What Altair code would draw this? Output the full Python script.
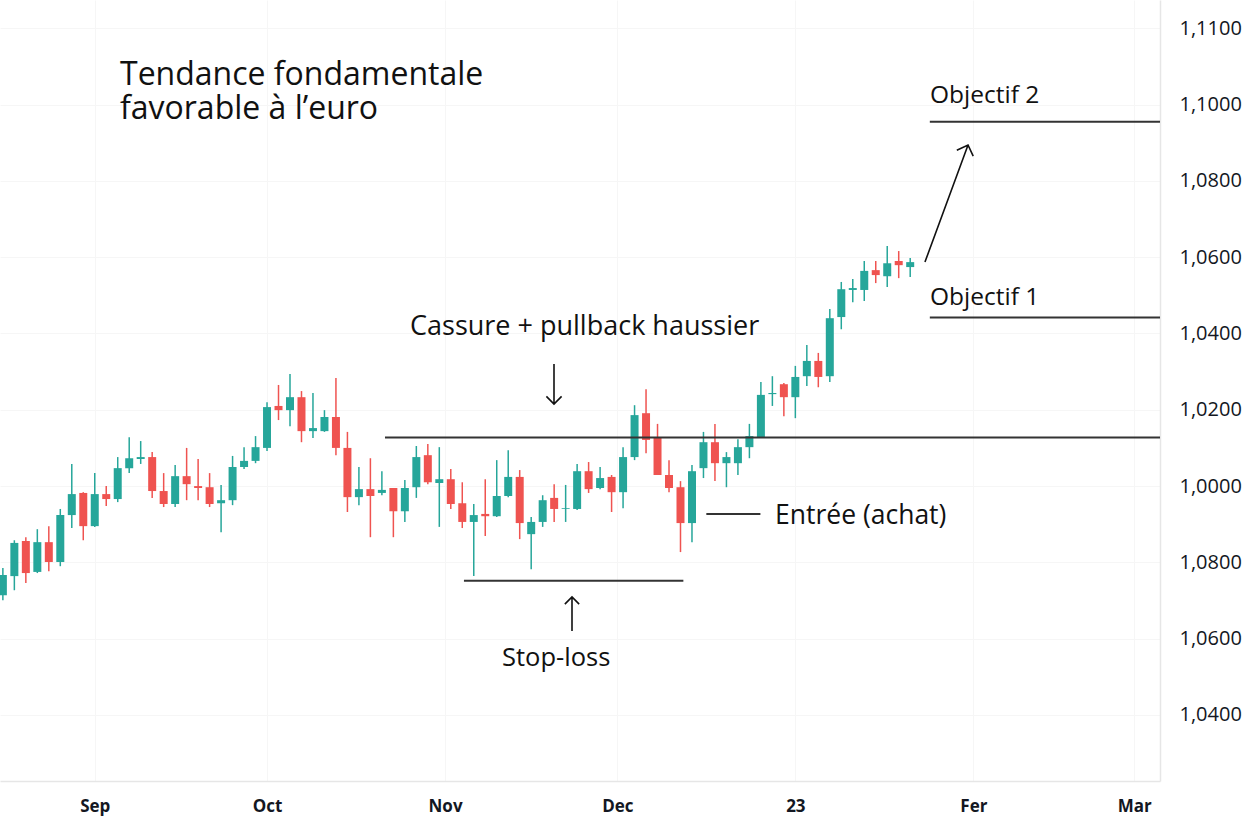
import altair as alt
import pandas as pd

# ---------------- data ----------------
dates = pd.date_range("2022-08-16", periods=80, freq="2D")

opens = [0.9714, 0.9764, 0.9856, 0.9775, 0.9853, 0.9801, 0.9924, 0.9982, 0.9895, 0.9979,
         0.9966, 1.0047, 1.0071, 1.0076, 0.9987, 0.9953, 1.0026, 1.0000, 0.9997, 0.9955,
         0.9963, 1.0050, 1.0066, 1.0100, 1.0210, 1.0199, 1.0233, 1.0144, 1.0144, 1.0181,
         1.0100, 0.9971, 0.9992, 0.9982, 0.9995, 0.9934, 0.9997, 1.0081, 1.0008, 1.0018,
         0.9955, 0.9906, 0.9927, 0.9921, 0.9974, 1.0024, 0.9874, 0.9906, 0.9969, 0.9940,
         0.9940, 1.0039, 0.9995, 1.0024, 0.9984, 1.0076, 1.0191, 1.0126, 1.0029, 0.9997,
         0.9903, 1.0047, 1.0115, 1.0060, 1.0060, 1.0102, 1.0126, 1.0241, 1.0267, 1.0233,
         1.0288, 1.0328, 1.0288, 1.0443, 1.0514, 1.0514, 1.0566, 1.0550, 1.0590, 1.0574]
highs = [0.9785, 0.9858, 0.9866, 0.9887, 0.9895, 0.9940, 1.0058, 0.9984, 1.0034, 1.0000,
         1.0076, 1.0128, 1.0118, 1.0089, 1.0034, 1.0055, 1.0100, 1.0071, 1.0034, 1.0003,
         1.0079, 1.0102, 1.0131, 1.0220, 1.0265, 1.0294, 1.0249, 1.0244, 1.0199, 1.0283,
         1.0142, 1.0050, 1.0073, 1.0039, 0.9995, 1.0016, 1.0105, 1.0110, 1.0102, 1.0045,
         1.0010, 0.9953, 1.0018, 1.0068, 1.0094, 1.0042, 0.9919, 0.9976, 1.0005, 1.0003,
         1.0058, 1.0063, 1.0050, 1.0029, 1.0102, 1.0212, 1.0254, 1.0163, 1.0068, 1.0013,
         1.0055, 1.0142, 1.0163, 1.0089, 1.0123, 1.0163, 1.0273, 1.0288, 1.0270, 1.0315,
         1.0370, 1.0349, 1.0464, 1.0535, 1.0543, 1.0590, 1.0590, 1.0629, 1.0616, 1.0598]
lows = [0.9701, 0.9727, 0.9746, 0.9772, 0.9777, 0.9790, 0.9890, 0.9858, 0.9893, 0.9948,
        0.9958, 1.0034, 1.0058, 0.9969, 0.9945, 0.9945, 0.9963, 0.9963, 0.9945, 0.9879,
        0.9950, 1.0045, 1.0060, 1.0092, 1.0173, 1.0157, 1.0115, 1.0126, 1.0142, 1.0081,
        0.9932, 0.9950, 0.9866, 0.9976, 0.9866, 0.9906, 0.9969, 1.0005, 0.9893, 0.9940,
        0.9890, 0.9764, 0.9869, 0.9919, 0.9971, 0.9861, 0.9782, 0.9893, 0.9906, 0.9906,
        0.9937, 0.9982, 0.9992, 0.9932, 0.9942, 1.0068, 1.0086, 1.0029, 0.9984, 0.9827,
        0.9853, 1.0021, 1.0013, 0.9997, 1.0029, 1.0073, 1.0126, 1.0210, 1.0183, 1.0178,
        1.0262, 1.0259, 1.0273, 1.0411, 1.0482, 1.0485, 1.0532, 1.0522, 1.0545, 1.0548]
closes = [0.9767, 0.9851, 0.9772, 0.9853, 0.9801, 0.9924, 0.9979, 0.9895, 0.9979, 0.9966,
          1.0047, 1.0073, 1.0076, 0.9987, 0.9953, 1.0026, 1.0005, 0.9995, 0.9953, 0.9963,
          1.0050, 1.0066, 1.0102, 1.0207, 1.0199, 1.0233, 1.0144, 1.0152, 1.0181, 1.0100,
          0.9971, 0.9992, 0.9974, 0.9990, 0.9934, 0.9995, 1.0076, 1.0010, 1.0018, 0.9953,
          0.9906, 0.9924, 0.9921, 0.9974, 1.0024, 0.9903, 0.9906, 0.9963, 0.9940, 0.9942,
          1.0039, 0.9992, 1.0021, 0.9984, 1.0076, 1.0186, 1.0121, 1.0029, 0.9995, 0.9903,
          1.0039, 1.0115, 1.0060, 1.0076, 1.0102, 1.0131, 1.0239, 1.0244, 1.0233, 1.0286,
          1.0328, 1.0286, 1.0440, 1.0516, 1.0519, 1.0564, 1.0553, 1.0584, 1.0579, 1.0587]

# y-axis ticks and their printed labels (as shown in the picture)
y_ticks = [0.94, 0.96, 0.98, 1.00, 1.02, 1.04, 1.06, 1.08, 1.10, 1.12]
y_labels = ["1,0400", "1,0600", "1,0800", "1,0000", "1,0200",
            "1,0400", "1,0600", "1,0800", "1,1000", "1,1100"]

# x-axis month ticks and their printed labels
x_months = [(2022, 9), (2022, 10), (2022, 11), (2022, 12), (2023, 1), (2023, 2), (2023, 3)]
x_labels = ["Sep", "Oct", "Nov", "Dec", "23", "Fer", "Mar"]

# annotation price levels
level_names = ["resistance", "stop", "entree", "obj1", "obj2"]
level_values = [1.0127, 0.9752, 0.9927, 1.0442, 1.0955]
level_start = ["2022-10-21T13:00", "2022-11-04T07:00", "2022-12-16T12:00",
               "2023-01-24T10:00", "2023-01-24T10:00"]
level_end = ["2023-03-05T12:00", "2022-12-12T12:00", "2022-12-25T22:00",
             "2023-03-05T12:00", "2023-03-05T12:00"]

GREEN = "#26a69a"
RED = "#ef5350"
FONT = "Open Sans"

df = pd.DataFrame({"date": dates, "open": opens, "high": highs, "low": lows, "close": closes})
df["up"] = df["close"] >= df["open"]

lv = pd.DataFrame({"name": level_names, "v": level_values,
                   "d1": pd.to_datetime(level_start), "d2": pd.to_datetime(level_end)})

x_dom = [alt.DateTime(year=2022, month=8, date=15, hours=12),
         alt.DateTime(year=2023, month=3, date=5, hours=12)]
y_dom = [0.9227, 1.1274]

y_expr = " : ".join(f"abs(datum.value - {v}) < 0.001 ? '{l}'" for v, l in zip(y_ticks, y_labels)) + " : ''"
x_expr = " : ".join(f"(year(datum.value) == {y} && month(datum.value) == {m - 1}) ? '{l}'"
                    for (y, m), l in zip(x_months, x_labels)) + " : ''"

x_scale = alt.Scale(domain=x_dom, padding=0)
y_scale = alt.Scale(domain=y_dom, zero=False, nice=False)

x_axis = alt.Axis(values=[alt.DateTime(year=y, month=m, date=1) for y, m in x_months],
                  labelExpr=x_expr, title=None, tickSize=0, labelPadding=17,
                  labelFont=FONT, labelFontSize=17, labelFontWeight="bold", labelColor="#131722",
                  domainColor="#e6e6e6", domainWidth=1.5, gridColor="#f6f6f6", grid=True)
y_axis = alt.Axis(values=y_ticks, labelExpr=y_expr, orient="right", title=None, tickSize=0,
                  labelPadding=19, labelFont=FONT, labelFontSize=20, labelColor="#131722",
                  domainColor="#e6e6e6", domainWidth=1.5, gridColor="#f6f6f6", grid=True,
                  labelBaseline="middle")

base = alt.Chart(df).encode(
    x=alt.X("date:T", scale=x_scale, axis=x_axis),
    color=alt.condition("datum.up", alt.value(GREEN), alt.value(RED)),
)

wicks = base.mark_rule(strokeWidth=1.5).encode(
    y=alt.Y("low:Q", scale=y_scale, axis=y_axis), y2="high:Q")
bodies = base.mark_bar(size=8).encode(y=alt.Y("open:Q", scale=y_scale), y2="close:Q")

levels = alt.Chart(lv).mark_rule(strokeWidth=2, color="#333333").encode(
    x=alt.X("d1:T", scale=x_scale), x2="d2:T", y=alt.Y("v:Q", scale=y_scale))


def txt(text, x, y, size=25):
    return alt.Chart(pd.DataFrame({"t": [text]})).mark_text(
        align="left", baseline="alphabetic", font=FONT, fontSize=size, color="#111111",
    ).encode(text="t:N", x=alt.value(x), y=alt.value(y))


def arrow(path, x, y, length, angle=0):
    return alt.Chart(pd.DataFrame({"a": [0]})).mark_point(
        shape=path, filled=False, stroke="#111111", strokeWidth=1.6, opacity=1,
        size=length * length, angle=angle,
    ).encode(x=alt.value(x), y=alt.value(y))


down_path = "M 0 -1 L 0 1 M -0.38 0.62 L 0 1 L 0.38 0.62"
up_path = "M 0 1 L 0 -1 M -0.42 -0.58 L 0 -1 L 0.42 -0.58"
diag_path = "M 0 1 L 0 -1 M -0.14 -0.86 L 0 -1 L 0.14 -0.86"

chart = alt.layer(
    wicks, bodies, levels,
    txt("Tendance fondamentale", 120, 85, 32),
    txt("favorable à l’euro", 120, 119, 32),
    txt("Cassure + pullback haussier", 410, 335, 27),
    txt("Objectif 2", 930, 103, 24.5),
    txt("Objectif 1", 930, 305, 24.5),
    txt("Entrée (achat)", 775, 524, 26.5),
    txt("Stop-loss", 502, 666, 25.5),
    arrow(down_path, 554, 384, 40),
    arrow(up_path, 572, 614, 34),
    arrow(diag_path, 946.5, 203.5, 124.7, 20.2),
).properties(
    width=1160, height=781,
    autosize=alt.AutoSizeParams(type="none"),
    padding={"left": 0, "top": 0, "right": 95, "bottom": 53},
    background="white",
).configure_view(stroke=None)

chart.save("out.html", embed_options={"renderer": "svg", "actions": False})
